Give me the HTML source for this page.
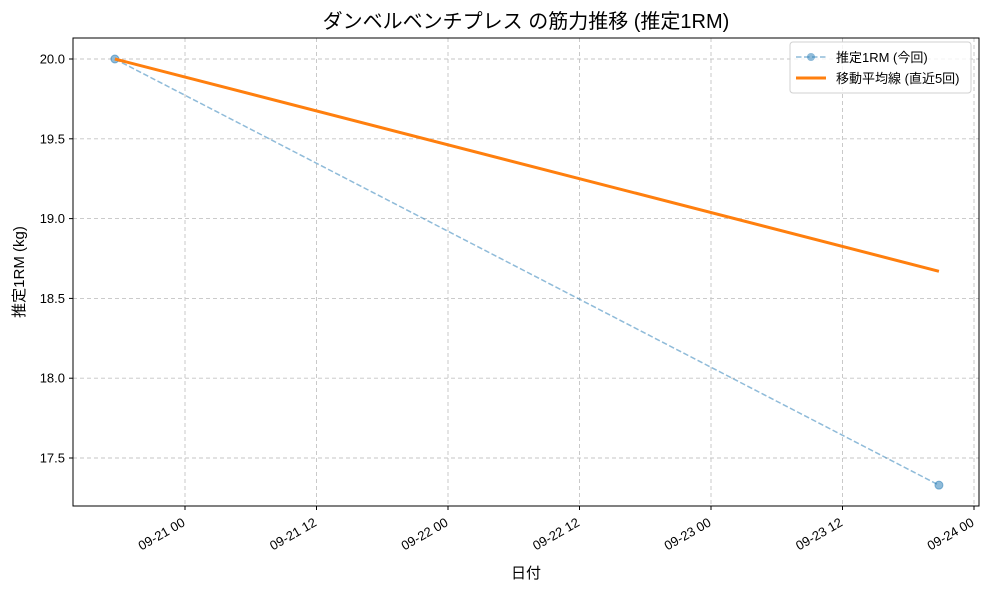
<!DOCTYPE html>
<html><head><meta charset="utf-8">
<style>
body{margin:0;background:#fff;}
svg text{font-family:"Liberation Sans","Noto Sans CJK JP",sans-serif;fill:#000;}
</style></head>
<body>
<svg id="chart" width="989" height="590" xmlns="http://www.w3.org/2000/svg"></svg>
<script>
// Data: hours relative to 09-21 00
const dates = [-6.4, 68.8];
const oneRM = [20.0, 17.33];
const movingAvg = [20.0, 18.67];
const yTicks = [17.5, 18.0, 18.5, 19.0, 19.5, 20.0];
const xTickHours = [0, 12, 24, 36, 48, 60, 72];
const xTickLabels = ["09-21 00","09-21 12","09-22 00","09-22 12","09-23 00","09-23 12","09-24 00"];

const svg = document.getElementById('chart');
const NS = 'http://www.w3.org/2000/svg';
const L = 73, R = 979, T = 38, B = 506;
function xs(h){ return 185 + h * (131.5/12); }
function ys(v){ return 59 + (20.0 - v) * 159.6; }
function mk(tag, attrs, parent){
  const e = document.createElementNS(NS, tag);
  for (const k in attrs) e.setAttribute(k, attrs[k]);
  (parent || svg).appendChild(e);
  return e;
}

// grid
xTickHours.forEach((h) => {
  const g = mk('line', {x1:xs(h), x2:xs(h), y1:T, y2:B, stroke:'#c4c4c4', 'stroke-dasharray':'4,3', 'stroke-width':0.9});
  
  
});
yTicks.forEach((v) => {
  const g = mk('line', {x1:L, x2:R, y1:ys(v), y2:ys(v), stroke:'#c4c4c4', 'stroke-dasharray':'4,3', 'stroke-width':0.9});
  
  
});

// series 1 (dashed)
let d1 = dates.map((h, i) => (i ? 'L' : 'M') + xs(h) + ',' + ys(oneRM[i])).join(' ');
const p1 = mk('path', {d:d1, fill:'none', stroke:'#1f77b4', 'stroke-opacity':0.5, 'stroke-width':1.5, 'stroke-dasharray':'5.5,2.5'});


dates.forEach((h, i) => {
  const c = mk('circle', {cx:xs(h), cy:ys(oneRM[i]), r:4, fill:'#1f77b4', 'fill-opacity':0.5, stroke:'#1f77b4', 'stroke-opacity':0.5});
  
  
});
// series 2
let d2 = dates.map((h, i) => (i ? 'L' : 'M') + xs(h) + ',' + ys(movingAvg[i])).join(' ');
const p2 = mk('path', {d:d2, fill:'none', stroke:'#ff7f0e', 'stroke-width':3});



// frame
const fr = mk('rect', {x:L, y:T, width:R-L, height:B-T, fill:'none', stroke:'#000', 'stroke-width':1});



// y ticks
yTicks.forEach((v) => {
  mk('line', {x1:L-4, x2:L, y1:ys(v), y2:ys(v), stroke:'#000'});
  const t = mk('text', {x:L-8, y:ys(v)+4.5, 'text-anchor':'end', 'font-size':13});
  t.textContent = v.toFixed(1);
  
  
});
// x ticks
xTickHours.forEach((h, i) => {
  mk('line', {x1:xs(h), x2:xs(h), y1:B, y2:B+4, stroke:'#000'});
  const ax = xs(h) + 1, ay = B + 19;
  const t = mk('text', {x:ax, y:ay, 'text-anchor':'end', 'font-size':13, transform:'rotate(-30 ' + ax + ' ' + ay + ')'});
  t.textContent = xTickLabels[i];
  
  
});

// titles
const ti = mk('text', {x:526, y:28, 'text-anchor':'middle', 'font-size':20});
ti.textContent = 'ダンベルベンチプレス の筋力推移 (推定1RM)';


const xt = mk('text', {x:526, y:578, 'text-anchor':'middle', 'font-size':15});
xt.textContent = '日付';


const yt = mk('text', {x:0, y:0, 'text-anchor':'middle', 'font-size':15, transform:'translate(24 272) rotate(-90)'});
yt.textContent = '推定1RM (kg)';



// legend
const lg = mk('g', {});


mk('rect', {x:790, y:42, width:181, height:51, rx:3, fill:'#fff', 'fill-opacity':0.8, stroke:'#d0d0d0'}, lg);
mk('line', {x1:796, x2:826, y1:57, y2:57, stroke:'#1f77b4', 'stroke-opacity':0.5, 'stroke-width':1.5, 'stroke-dasharray':'5.5,2.5'}, lg);
mk('circle', {cx:811, cy:57, r:4, fill:'#1f77b4', 'fill-opacity':0.5}, lg);
const l1 = mk('text', {x:836, y:62, 'font-size':13}, lg);
l1.textContent = '推定1RM (今回)';


mk('line', {x1:796, x2:826, y1:78, y2:78, stroke:'#ff7f0e', 'stroke-width':3}, lg);
const l2 = mk('text', {x:836, y:83, 'font-size':13}, lg);
l2.textContent = '移動平均線 (直近5回)';


</script>
</body></html>
